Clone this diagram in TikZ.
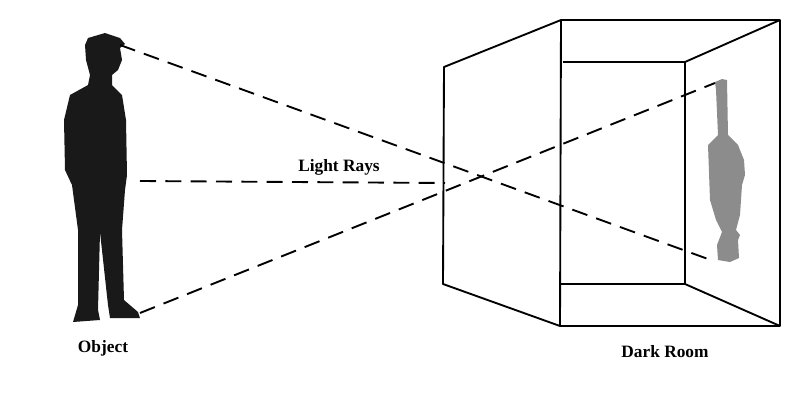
\documentclass[tikz,border=0pt]{standalone}
\usepackage{fontspec}
\setmainfont{Liberation Serif}
\usetikzlibrary{positioning}
\tikzset{
  edge/.style={line width=1.4pt, line join=round},
  ray/.style={line width=1.4pt, dash pattern=on 12pt off 7pt},
  label/.style={font=\fontsize{13}{15}\selectfont\bfseries, inner sep=0.75pt}
}
\begin{document}
\begin{tikzpicture}[x=0.75pt,y=0.75pt,yscale=-1,xscale=1]
\useasboundingbox (0,0) rectangle (800,400);

%Points of the room
\coordinate (lt) at (444,67);
\coordinate (lb) at (443,284);
\coordinate (ft) at (561,20);
\coordinate (fb) at (560,326);
\coordinate (rt) at (780,20);
\coordinate (rb) at (780,326);
\coordinate (it) at (563,62);
\coordinate (ib) at (560,284);
\coordinate (jt) at (685,62);
\coordinate (jb) at (685,284);

%Dark room
\draw [edge] (lt) -- (ft) -- (rt) -- (rb) -- (fb) -- (lb) -- cycle;
\draw [edge] (ft) -- (fb);
\draw [edge] (it) -- (jt) -- (jb) -- (ib);
\draw [edge] (jt) -- (rt);
\draw [edge] (jb) -- (rb);

%Object
\fill [black!90] (88,38) -- (105,33) -- (120,38) -- (125,44) -- (120,48) -- (122,60) -- (118,70)
  -- (112,75) -- (112,85) -- (122,95) -- (126,120) -- (127,175) -- (125,190) -- (122,230)
  -- (124,300) -- (138,312) -- (140,318) -- (110,318) -- (108,305) -- (100,232) -- (98,310)
  -- (100,320) -- (73,322) -- (78,305) -- (78,230) -- (72,185) -- (65,170) -- (64,120)
  -- (70,95) -- (88,85) -- (90,75) -- (86,60) -- (85,45) -- cycle;

%Image
\fill [black!45] (715,82) -- (722,79) -- (727,80) -- (728,135) -- (738,145) -- (744,160)
  -- (745,175) -- (742,185) -- (740,215) -- (736,230) -- (740,235) -- (738,240) -- (739,258)
  -- (730,262) -- (718,260) -- (717,245) -- (722,232) -- (716,220) -- (710,200) -- (708,145)
  -- (718,135) -- (716,90) -- cycle;

%Rays
\coordinate (head) at (120,45);
\coordinate (feet) at (140,313);
\coordinate (mid) at (140,181);
\coordinate (hole) at (445,183);
\coordinate (up) at (715,83);
\coordinate (down) at (708,259);
\draw [ray] (head) -- (down);
\draw [ray] (feet) -- (up);
\draw [ray] (mid) -- (hole);

%Labels
\node [label] (rays) at (339,167) {Light Rays};
\node [label] (obj) at (103,348) {Object};
\node [label] (room) at (665,352) {Dark Room};
\end{tikzpicture}
\end{document}
